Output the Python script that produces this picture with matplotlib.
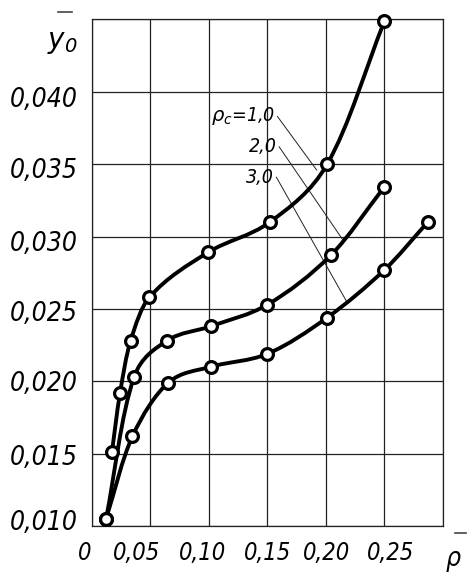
import numpy as np
import matplotlib
matplotlib.use("Agg")
import matplotlib.pyplot as plt
from matplotlib.path import Path
from matplotlib.patches import PathPatch
from matplotlib.font_manager import FontProperties, fontManager
from matplotlib.transforms import ScaledTranslation

# --- data ---
rho_1 = [0.017, 0.024, 0.033, 0.049, 0.099, 0.152, 0.201, 0.250]
y0_1 = [0.0151, 0.0192, 0.0228, 0.0258, 0.0289, 0.0310, 0.0350, 0.0449]

rho_2 = [0.012, 0.036, 0.064, 0.1015, 0.150, 0.204, 0.2496]
y0_2 = [0.0105, 0.0203, 0.0228, 0.0238, 0.0253, 0.0287, 0.0334]

rho_3 = [0.012, 0.0346, 0.0652, 0.1015, 0.150, 0.201, 0.250, 0.287]
y0_3 = [0.0105, 0.0162, 0.0199, 0.0210, 0.0219, 0.0244, 0.0277, 0.0310]

curve_labels = ["=1,0", "2,0", "3,0"]
# leader lines: (label end) -> (point on curve), data units
leader_from = [(0.1585, 0.0383), (0.160, 0.0362), (0.1576, 0.0341)]
leader_to = [(0.192, 0.0346), (0.215, 0.0297), (0.2184, 0.0254)]

xtick_vals = [0, 0.05, 0.10, 0.15, 0.20, 0.25, 0.30]
xtick_labels = ["0", "0,05", "0,10", "0,15", "0,20", "0,25", ""]
ytick_vals = [0.010, 0.015, 0.020, 0.025, 0.030, 0.035, 0.040, 0.045]
ytick_labels = ["0,010", "0,015", "0,020", "0,025", "0,030", "0,035", "0,040", ""]

# --- fonts: a narrow face if one is installed ---
narrow = [f for f in fontManager.ttflist
          if "Narrow" in f.name or "Condensed" in f.name
          or f.stretch in ("condensed", "semi-condensed", "extra-condensed")]
if narrow:
    fam, stretch = narrow[0].name, narrow[0].stretch
else:
    fam, stretch = "Liberation Sans", "normal"
plt.rcParams["mathtext.fontset"] = "custom"
plt.rcParams["mathtext.it"] = f"{fam}:italic"
plt.rcParams["mathtext.rm"] = f"{fam}:italic"


def font(size):
    return FontProperties(family=[fam, "DejaVu Sans"], style="italic",
                          stretch=stretch, size=size)


def smooth_path(xs, ys, xspan, yspan):
    # chord-length Catmull-Rom through the points, as cubic Bezier segments
    p = np.column_stack([xs, ys])
    q = p / [xspan, yspan]
    t = np.concatenate([[0], np.cumsum(np.hypot(*np.diff(q, axis=0).T))])
    n = len(p)
    m = np.zeros_like(p)
    for i in range(n):
        a, b = max(i - 1, 0), min(i + 1, n - 1)
        m[i] = (p[b] - p[a]) / (t[b] - t[a])
    verts = [p[0]]
    codes = [Path.MOVETO]
    for i in range(n - 1):
        h = t[i + 1] - t[i]
        verts += [p[i] + m[i] * h / 3, p[i + 1] - m[i + 1] * h / 3, p[i + 1]]
        codes += [Path.CURVE4] * 3
    return Path(verts, codes)


fig = plt.figure(figsize=(4.67, 5.8), dpi=100)
ax = fig.add_axes([0.197, 0.0931, 0.7516, 0.8733])

ax.set_xlim(0, 0.30)
ax.set_ylim(0.010, 0.045)

# grid
ax.set_xticks(xtick_vals)
ax.set_xticklabels(xtick_labels, fontproperties=font(17))
ax.set_yticks(ytick_vals)
ax.set_yticklabels(ytick_labels, fontproperties=font(19))
ax.tick_params(axis="both", length=0)
ax.tick_params(axis="x", pad=11)
ax.tick_params(axis="y", pad=10)
ax.grid(True, color="#222222", lw=0.9)
for sp in ax.spines.values():
    sp.set_color("#222222")
    sp.set_linewidth(0.9)

# nudge tick labels like the hand-drawn original
x_nudge = [-7, -14, -6, 0, 1, 6, 0]
for lab, dx in zip(ax.get_xticklabels(), x_nudge):
    lab.set_transform(lab.get_transform() + ScaledTranslation(dx / 100, 0, fig.dpi_scale_trans))
y_nudge = [6, -1, 0, -2, -4, -4, -5, 0]
for lab, dy in zip(ax.get_yticklabels(), y_nudge):
    lab.set_transform(lab.get_transform() + ScaledTranslation(0, dy / 100, fig.dpi_scale_trans))

# curves
xspan, yspan = 0.30, 0.035 * 1.44
for xs, ys in [(rho_1, y0_1), (rho_2, y0_2), (rho_3, y0_3)]:
    ax.add_patch(PathPatch(smooth_path(xs, ys, xspan, yspan), fill=False, ec="black",
                           lw=2.8, capstyle="round", joinstyle="round", zorder=3))
    ax.plot(xs, ys, "o", mfc="white", mec="black", ms=8.5, mew=2.3, zorder=4,
            clip_on=False)

# labels and leader lines
(x1, y1), (x2, y2), (x3, y3) = leader_from
ax.text(x1 - 0.002, y1, r"$ρ_c$" + curve_labels[0], fontproperties=font(14),
        ha="right", va="center", zorder=5)
ax.text(x2 - 0.002, y2, curve_labels[1], fontproperties=font(14),
        ha="right", va="center", zorder=5)
ax.text(x3 - 0.002, y3, curve_labels[2], fontproperties=font(14),
        ha="right", va="center", zorder=5)
for (xa, ya), (xb, yb) in zip(leader_from, leader_to):
    ax.plot([xa, xb], [ya, yb], color="#222222", lw=0.7, zorder=2)

# axis titles
fig.text(47 / 467, 1 - 42 / 580, r"$y_0$", fontproperties=font(20), ha="left", va="center")
fig.add_artist(plt.Line2D([58 / 467, 72 / 467], [1 - 12 / 580, 1 - 12 / 580],
                          color="#444444", lw=1.2))
fig.text(446 / 467, 1 - 546 / 580, "ρ", fontproperties=font(19), ha="left", va="top")
fig.add_artist(plt.Line2D([455 / 467, 466 / 467], [1 - 533 / 580, 1 - 533 / 580],
                          color="#444444", lw=1.2))

fig.savefig("out.png", dpi=100)
